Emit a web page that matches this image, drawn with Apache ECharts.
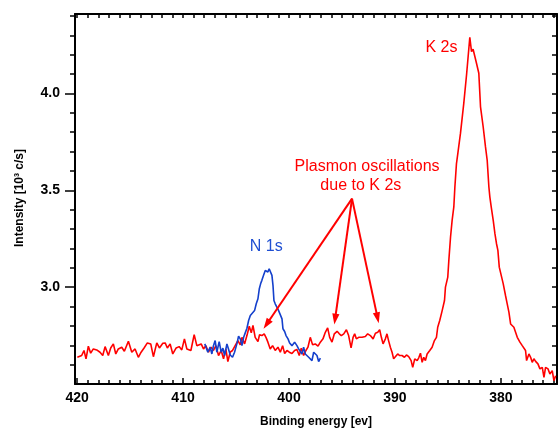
<!DOCTYPE html>
<html>
<head>
<meta charset="utf-8">
<script src="https://cdn.jsdelivr.net/npm/echarts@6/dist/echarts.min.js"></script>
<style>
html,body{margin:0;padding:0;background:#fff;}
#chart{width:560px;height:432px;}
</style>
</head>
<body>
<div id="chart"></div>
<script>
// ---- data (binding energy [eV], intensity [10^3 c/s]) ----
const redSpectrum = [
[419.98,2.638],[419.57,2.647],[419.35,2.673],[419.16,2.630],[418.94,2.695],[418.72,2.659],[418.47,2.681],[418.15,2.676],[417.84,2.664],[417.58,2.647],[417.36,2.693],[417.05,2.647],[416.83,2.686],[416.58,2.707],[416.35,2.655],[416.11,2.681],[415.79,2.690],[415.54,2.669],[415.16,2.721],[414.84,2.664],[414.53,2.681],[414.22,2.638],[413.96,2.664],[413.68,2.686],[413.37,2.712],[413.05,2.707],[412.80,2.641],[412.48,2.712],[412.23,2.686],[411.91,2.710],[411.69,2.712],[411.48,2.686],[411.22,2.707],[410.97,2.655],[410.65,2.686],[410.37,2.693],[410.12,2.676],[409.87,2.733],[409.64,2.681],[409.26,2.673],[408.95,2.755],
[408.70,2.698],[408.55,2.690],[408.29,2.707],[408.07,2.681],[407.85,2.698],[407.60,2.664],[407.35,2.690],[407.13,2.673],[406.90,2.698],[406.65,2.647],[406.40,2.673],[406.18,2.630],[405.96,2.681],[405.77,2.616],[405.55,2.664],[405.33,2.673],[405.08,2.698],[404.82,2.724],[404.60,2.702],[404.44,2.741],[404.19,2.707],[403.97,2.750],[403.75,2.798],[403.56,2.764],[403.40,2.802],[403.19,2.741],[402.93,2.719],[402.78,2.754],[402.56,2.750],[402.34,2.759],[402.15,2.738],[401.99,2.716],[401.77,2.681],[401.55,2.698],[401.30,2.673],[401.04,2.690],[400.82,2.664],[400.60,2.698],[400.41,2.657],[400.19,2.673],[399.97,2.664],[399.72,2.657],[399.47,2.673],[399.25,2.678],[399.03,2.647],[398.84,2.685],[398.62,2.647],[398.40,2.673],[398.21,2.690],[397.99,2.741],[397.77,2.702],[397.52,2.707],[397.26,2.695],
[397.04,2.716],[396.79,2.733],[396.57,2.767],[396.35,2.790],[396.16,2.741],[395.94,2.716],[395.72,2.759],[395.46,2.772],[395.25,2.759],[395.06,2.750],[394.83,2.759],[394.58,2.780],[394.37,2.750],[394.14,2.686],[393.95,2.741],[393.80,2.759],[393.64,2.733],[393.42,2.741],[393.10,2.741],[392.79,2.745],[392.57,2.759],[392.32,2.750],[392.06,2.733],[391.84,2.762],[391.62,2.767],[391.44,2.780],[391.28,2.741],[391.12,2.707],[390.90,2.733],[390.75,2.759],[390.60,2.724],[390.43,2.690],[390.27,2.664],[390.12,2.630],[389.96,2.638],[389.74,2.655],[389.55,2.647],[389.33,2.647],[389.10,2.638],[388.91,2.650],[388.70,2.641],[388.47,2.621],[388.32,2.586],[388.13,2.630],[387.90,2.621],[387.75,2.635],[387.59,2.659],[387.43,2.612],[387.28,2.638],[387.12,2.621],[386.96,2.655],[386.71,2.673],[386.49,2.690],[386.27,2.724],[386.08,2.741],[385.96,2.793],[385.77,2.828],[385.54,2.879],[385.32,2.931],
[385.23,3.000],[385.01,3.052],[384.91,3.138],[384.75,3.259],[384.60,3.345],[384.44,3.414],[384.34,3.517],[384.19,3.638],[384.06,3.690],[383.81,3.795],[383.50,3.949],[383.24,4.095],[382.93,4.290],[382.77,4.216],[382.62,4.228],[382.30,4.156],[382.08,4.104],[381.92,3.931],[381.67,3.828],[381.45,3.724],[381.29,3.655],[381.13,3.517],[381.04,3.466],[380.91,3.414],[380.72,3.345],[380.56,3.276],[380.41,3.224],[380.28,3.190],[380.15,3.103],[379.97,3.095],[379.78,3.018],[379.56,2.957],[379.40,2.914],[379.24,2.871],[379.08,2.810],[378.93,2.802],[378.77,2.793],[378.61,2.767],[378.45,2.741],[378.20,2.716],[377.98,2.698],[377.82,2.707],[377.67,2.673],[377.57,2.621],[377.35,2.655],[377.19,2.638],[377.04,2.612],[376.88,2.630],[376.72,2.617],[376.50,2.604],[376.31,2.578],[376.09,2.586],[375.93,2.534],[375.78,2.586],[375.55,2.578],[375.37,2.552],[375.15,2.569],[374.99,2.517],[374.83,2.543]
];
const blueSpectrum = [
[407.95,2.707],[407.85,2.698],[407.66,2.664],[407.44,2.690],[407.28,2.655],[407.13,2.698],[406.97,2.724],[406.81,2.664],[406.59,2.719],[406.40,2.664],[406.24,2.685],[406.08,2.647],[405.86,2.707],[405.71,2.681],[405.55,2.650],[405.33,2.638],[405.14,2.664],[404.92,2.707],[404.76,2.747],[404.60,2.733],[404.44,2.698],[404.28,2.741],[404.13,2.764],[403.97,2.788],[403.81,2.828],[403.65,2.854],[403.50,2.862],[403.25,2.879],[403.09,2.914],[402.93,2.940],[402.80,2.992],[402.68,3.017],[402.56,3.035],[402.40,3.061],[402.24,3.086],[402.08,3.095],[401.99,3.078],[401.87,3.095],[401.74,3.086],[401.61,3.061],[401.51,3.009],[401.42,2.931],[401.30,2.914],[401.14,2.905],[400.98,2.879],[400.82,2.879],[400.66,2.836],[400.57,2.785],[400.41,2.771],[400.28,2.750],[400.09,2.733],[399.94,2.712],[399.72,2.698],[399.47,2.716],[399.25,2.698],[399.09,2.681],[398.93,2.690],[398.78,2.655],[398.62,2.690],[398.46,2.655],[398.30,2.664],[398.14,2.638],[397.99,2.647],[397.83,2.621],[397.67,2.664],[397.52,2.667],[397.36,2.647],[397.20,2.616],[397.04,2.633]
];
const xTickLabels = [380, 390, 400, 410, 420];
const yTickLabels = [3.0, 3.5, 4.0];
const xTitle = 'Binding energy [ev]';
const yTitle = 'Intensity [10³ c/s]';
const peakLabels = [
  {text: 'K 2s', at: [385.61, 4.235], color: '#ff0000'},
  {text: 'N 1s', at: [402.15, 3.208], color: '#1f4fd2'},
  {text: 'Plasmon oscillations', at: [392.63, 3.622], color: '#ff0000'},
  {text: 'due to K 2s', at: [393.22, 3.526], color: '#ff0000'}
];
const arrowFrom = [394.05, 3.457];
const arrowTo = [[402.40, 2.785], [395.72, 2.807], [391.53, 2.814]];

// ---- layout ----
const X_MIN = 374.7, X_MAX = 420.2, Y_MIN = 2.5, Y_MAX = 4.41;
const FONT = 'Liberation Sans';
const xMinor = []; for (let v = 375; v <= 420; v++) xMinor.push(v);
const yMinor = []; for (let k = 26; k <= 44; k++) yMinor.push(+(k / 10).toFixed(1));

const chart = echarts.init(document.getElementById('chart'), null, {renderer: 'canvas'});
const black = '#000';
function xAx(extra) {
  return Object.assign({type: 'value', min: X_MIN, max: X_MAX, inverse: true,
    splitLine: {show: false}, axisLabel: {show: false}, axisLine: {show: false, onZero: false}}, extra);
}
function yAx(extra) {
  return Object.assign({type: 'value', min: Y_MIN, max: Y_MAX,
    splitLine: {show: false}, axisLabel: {show: false}, axisLine: {show: false, onZero: false}}, extra);
}
chart.setOption({
  animation: false,
  backgroundColor: '#fff',
  grid: {left: 75, top: 14, right: 3, bottom: 48, containLabel: false},
  xAxis: [
    xAx({position: 'bottom',
      axisLine: {show: true, onZero: false, lineStyle: {color: black, width: 2}},
      axisTick: {show: true, inside: true, length: 6, customValues: xTickLabels, lineStyle: {color: black, width: 1.5}},
      axisLabel: {show: true, customValues: xTickLabels, margin: 7, fontSize: 14, fontWeight: 'bold', color: black, fontFamily: FONT}}),
    xAx({position: 'bottom',
      axisTick: {show: true, inside: true, length: 4, customValues: xMinor, lineStyle: {color: black, width: 1.5}}}),
    xAx({position: 'top',
      axisLine: {show: true, onZero: false, lineStyle: {color: black, width: 2}},
      axisTick: {show: true, inside: true, length: 4, customValues: xMinor, lineStyle: {color: black, width: 1.5}}})
  ],
  yAxis: [
    yAx({position: 'left',
      axisLine: {show: true, onZero: false, lineStyle: {color: black, width: 2}},
      axisTick: {show: true, inside: false, length: 10, customValues: yTickLabels, lineStyle: {color: black, width: 1.5}},
      axisLabel: {show: true, customValues: yTickLabels, margin: 15, fontSize: 14, fontWeight: 'bold', color: black, fontFamily: FONT,
        formatter: v => Number(v).toFixed(1)}}),
    yAx({position: 'left',
      axisTick: {show: true, inside: false, length: 5, customValues: yMinor, lineStyle: {color: black, width: 1.5}}}),
    yAx({position: 'right',
      axisLine: {show: true, onZero: false, lineStyle: {color: black, width: 2}},
      axisTick: {show: true, inside: true, length: 5, customValues: yMinor, lineStyle: {color: black, width: 1.5}}})
  ],
  series: [
    {type: 'line', name: 'K', data: redSpectrum, xAxisIndex: 0, yAxisIndex: 0, showSymbol: false, symbol: 'none',
      lineStyle: {color: '#ff0000', width: 1.6}, z: 3},
    {type: 'line', name: 'N', data: blueSpectrum, xAxisIndex: 0, yAxisIndex: 0, showSymbol: false, symbol: 'none',
      lineStyle: {color: '#1440cc', width: 1.6}, z: 4}
  ]
});

// ---- annotations anchored to data coordinates ----
function px(p) { return chart.convertToPixel({xAxisIndex: 0, yAxisIndex: 0}, p); }
const g = [];
peakLabels.forEach(l => {
  const p = px(l.at);
  g.push({type: 'text', x: p[0], y: p[1], z: 10,
    style: {text: l.text, fill: l.color, font: '16px "' + FONT + '"', textAlign: 'center', textVerticalAlign: 'middle'}});
});
const a0 = px(arrowFrom);
arrowTo.forEach(t => {
  const p = px(t);
  const dx = p[0] - a0[0], dy = p[1] - a0[1];
  const L = Math.hypot(dx, dy), ux = dx / L, uy = dy / L;
  const hl = 11, hw = 3.6;
  const bx = p[0] - ux * hl, by = p[1] - uy * hl;
  g.push({type: 'line', z: 10, shape: {x1: a0[0], y1: a0[1], x2: bx + ux, y2: by + uy},
    style: {stroke: '#ff0000', lineWidth: 2}});
  g.push({type: 'polygon', z: 10, shape: {points: [[p[0], p[1]], [bx - uy * hw, by + ux * hw], [bx + uy * hw, by - ux * hw]]},
    style: {fill: '#ff0000'}});
});
g.push({type: 'text', x: 316, y: 422, z: 10,
  style: {text: xTitle, fill: black, font: 'bold 12px "' + FONT + '"', textAlign: 'center', textVerticalAlign: 'middle'}});
g.push({type: 'text', x: 20, y: 198, rotation: Math.PI / 2, z: 10,
  style: {text: yTitle, fill: black, font: 'bold 12px "' + FONT + '"', textAlign: 'center', textVerticalAlign: 'middle'}});
chart.setOption({graphic: g});
</script>
</body>
</html>
